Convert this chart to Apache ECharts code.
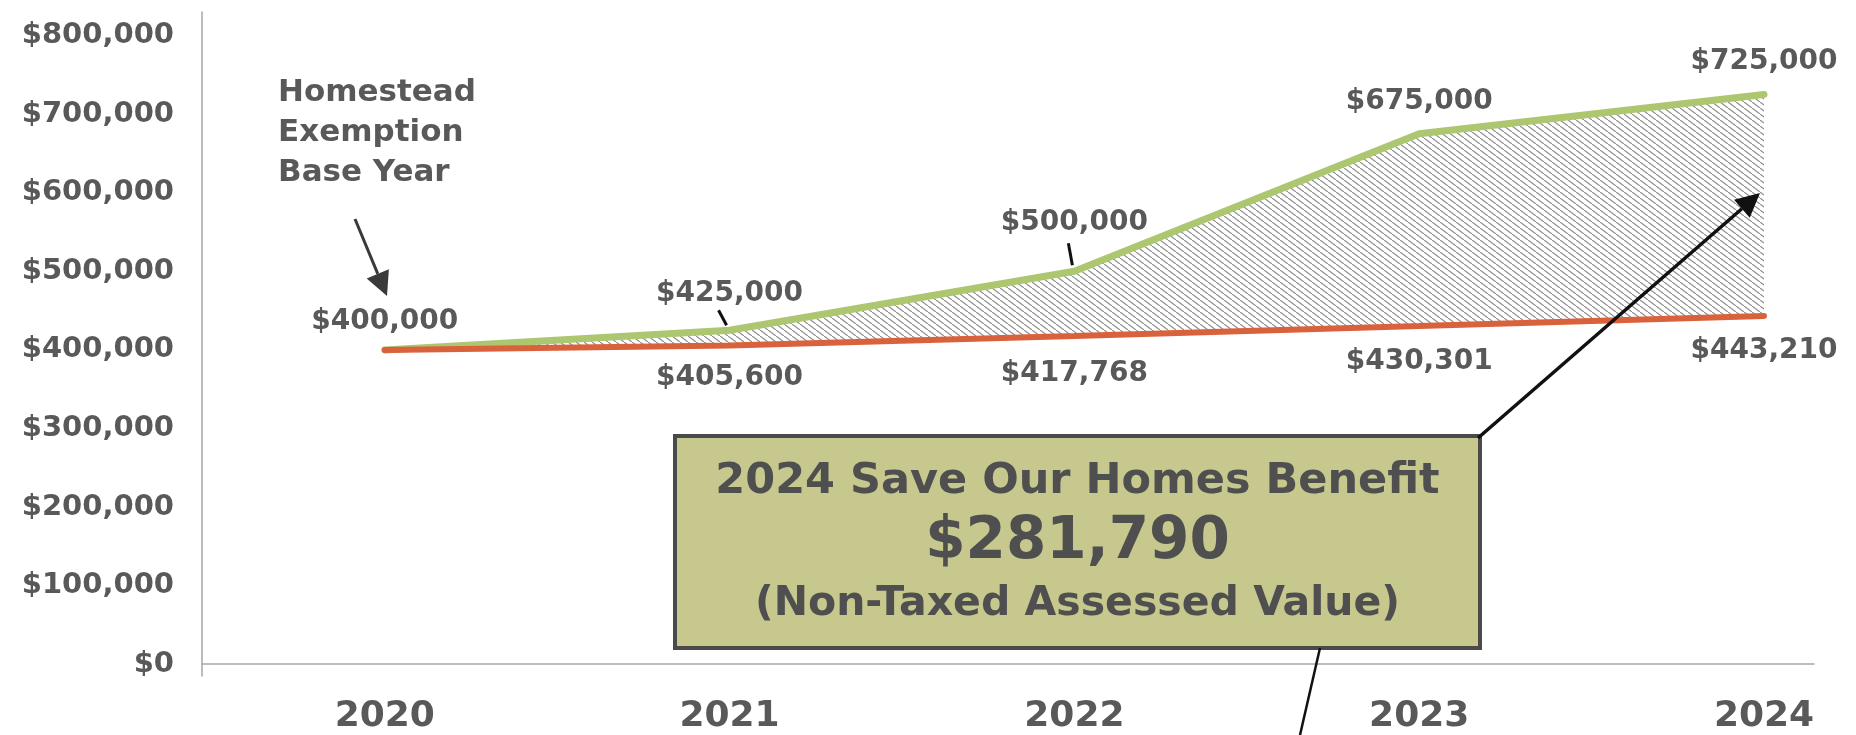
<!DOCTYPE html>
<html>
<head>
<meta charset="utf-8">
<script src="https://cdn.jsdelivr.net/npm/echarts@6/dist/echarts.min.js"></script>
<style>
html, body { margin: 0; padding: 0; background: #fff; }
#chart { width: 1856px; height: 735px; }
</style>
</head>
<body>
<div id="chart"></div>
<script>
var years = [2020, 2021, 2022, 2023, 2024];
var marketValue = [400000, 425000, 500000, 675000, 725000];
var assessedValue = [400000, 405600, 417768, 430301, 443210];
var yTicks = [0, 100000, 200000, 300000, 400000, 500000, 600000, 700000, 800000];
var noteLines = ['Homestead', 'Exemption', 'Base Year'];
var benefitTitle = '2024 Save Our Homes Benefit';
var benefitAmount = '$281,790';
var benefitNote = '(Non-Taxed Assessed Value)';

var textGray = '#595959';
var green = '#adc770';
var red = '#d9623c';
var FONT = 'DejaVu Sans';

function money(v) {
    return '$' + Number(v).toLocaleString('en-US');
}

// diagonal hatch for the gap between the two lines
var hatch = document.createElement('canvas');
hatch.width = 8;
hatch.height = 6;
var hc = hatch.getContext('2d');
hc.strokeStyle = '#8f8f8f';
hc.lineWidth = 1.2;
hc.beginPath();
hc.moveTo(-1, -0.75); hc.lineTo(9, 6.75);
hc.stroke();
var hatchFill = { type: 'pattern', image: hatch, repeat: 'repeat' };

// label distances
var greenDist = [14, 22, 34, 18, 18];
var redDist = [0, 18, 23, 21, 20];

var greenData = years.map(function (y, i) {
    return { value: [y, marketValue[i]], label: { distance: greenDist[i] } };
});
var redData = years.map(function (y, i) {
    return {
        value: [y, assessedValue[i]],
        label: { show: i > 0, distance: redDist[i] }
    };
});
// one quad per year step, between the two lines
var gapSegments = years.slice(0, -1).map(function (y, i) {
    return [y, years[i + 1], marketValue[i], marketValue[i + 1], assessedValue[i], assessedValue[i + 1]];
});

var labelFont = {
    fontFamily: FONT,
    fontWeight: 'bold',
    fontSize: 28,
    color: textGray
};

var option = {
    animation: false,
    backgroundColor: '#fff',
    grid: { left: 202, right: 42, top: 12, bottom: 57 },
    xAxis: {
        type: 'value',
        min: 2019.47,
        max: 2024.145,
        axisLine: { show: true, lineStyle: { color: '#a6a6a6', width: 1.5 } },
        axisTick: { show: false },
        splitLine: { show: false },
        axisLabel: {
            customValues: years,
            formatter: function (v) { return String(v); },
            margin: 23,
            fontFamily: FONT,
            fontWeight: 'bold',
            fontSize: 36,
            color: textGray
        }
    },
    yAxis: {
        type: 'value',
        min: -15000,
        max: 830000,
        axisLine: { show: true, lineStyle: { color: '#a6a6a6', width: 1.5 } },
        axisTick: { show: false },
        splitLine: { show: false },
        axisLabel: Object.assign({
            customValues: yTicks,
            formatter: money,
            margin: 28
        }, labelFont, { fontSize: 29 })
    },
    series: [
        {
            name: 'Gap',
            type: 'custom',
            data: gapSegments,
            encode: { x: [0, 1], y: [2, 3, 4, 5] },
            silent: true,
            z: 1,
            renderItem: function (params, api) {
                var a = api.coord([api.value(0), api.value(2)]);
                var b = api.coord([api.value(1), api.value(3)]);
                var c = api.coord([api.value(1), api.value(5)]);
                var d = api.coord([api.value(0), api.value(4)]);
                return {
                    type: 'polygon',
                    shape: { points: [a, b, c, d] },
                    style: { fill: hatchFill, stroke: null }
                };
            }
        },
        {
            name: 'Assessed',
            type: 'line',
            data: redData,
            symbol: 'circle',
            symbolSize: 1,
            z: 4,
            lineStyle: { color: red, width: 6, cap: 'round' },
            itemStyle: { color: red },
            label: Object.assign({ show: true, position: 'bottom', formatter: function (p) { return money(p.value[1]); } }, labelFont)
        },
        {
            name: 'Market',
            type: 'line',
            data: greenData,
            symbol: 'circle',
            symbolSize: 1,
            z: 3,
            lineStyle: { color: green, width: 7, cap: 'round' },
            itemStyle: { color: green },
            label: Object.assign({ show: true, position: 'top', formatter: function (p) { return money(p.value[1]); } }, labelFont)
        }
    ]
};

var myChart = echarts.init(document.getElementById('chart'));
myChart.setOption(option);

function arrow(x1, y1, x2, y2, color, w, head) {
    var ang = Math.atan2(y2 - y1, x2 - x1);
    var bx = x2 - head * Math.cos(ang);
    var by = y2 - head * Math.sin(ang);
    var px = -Math.sin(ang) * head * 0.5;
    var py = Math.cos(ang) * head * 0.5;
    return [
        { type: 'line', z: 100, shape: { x1: x1, y1: y1, x2: bx, y2: by }, style: { stroke: color, lineWidth: w } },
        { type: 'polygon', z: 100, shape: { points: [[x2, y2], [bx + px, by + py], [bx - px, by - py]] }, style: { fill: color } }
    ];
}

// little leader ticks under two of the green labels
var p21 = myChart.convertToPixel({ seriesIndex: 2 }, [years[1], marketValue[1]]);
var p22 = myChart.convertToPixel({ seriesIndex: 2 }, [years[2], marketValue[2]]);

var boxX = 675, boxY = 436, boxW = 805, boxH = 212;
var boxCx = boxX + boxW / 2;
var boxText = { align: 'center', verticalAlign: 'middle', fontFamily: FONT, fontWeight: 'bold', fill: '#4f4f4f' };

var graphics = [
    { type: 'line', z: 100, shape: { x1: p21[0] - 11, y1: p21[1] - 20, x2: p21[0] - 3, y2: p21[1] - 5 }, style: { stroke: '#111', lineWidth: 3 } },
    { type: 'line', z: 100, shape: { x1: p22[0] - 6, y1: p22[1] - 28, x2: p22[0] - 2, y2: p22[1] - 6 }, style: { stroke: '#111', lineWidth: 3 } },
    {
        type: 'text', z: 100, left: 278, top: 73,
        style: {
            text: noteLines.join('\n'),
            fontFamily: FONT, fontWeight: 'bold', fontSize: 31,
            lineHeight: 40, fill: textGray
        }
    },
    {
        type: 'rect', z: 90,
        shape: { x: boxX, y: boxY, width: boxW, height: boxH },
        style: { fill: '#c6c88e', stroke: '#4a4a48', lineWidth: 4 }
    },
    { type: 'text', z: 100, x: boxCx, y: 482, style: Object.assign({ text: benefitTitle, fontSize: 43 }, boxText) },
    { type: 'text', z: 100, x: boxCx, y: 543, style: Object.assign({ text: benefitAmount, fontSize: 58 }, boxText) },
    { type: 'text', z: 100, x: boxCx, y: 604, style: Object.assign({ text: benefitNote, fontSize: 41 }, boxText) },
    { type: 'line', z: 100, shape: { x1: 1320, y1: 648, x2: 1300, y2: 735 }, style: { stroke: '#111', lineWidth: 2.5 } }
];

graphics = graphics
    .concat(arrow(355, 219, 387, 296, '#3a3a3a', 3, 24))
    .concat(arrow(1478, 438, 1760, 193, '#111', 3.5, 24));

myChart.setOption({ graphic: graphics });
</script>
</body>
</html>
